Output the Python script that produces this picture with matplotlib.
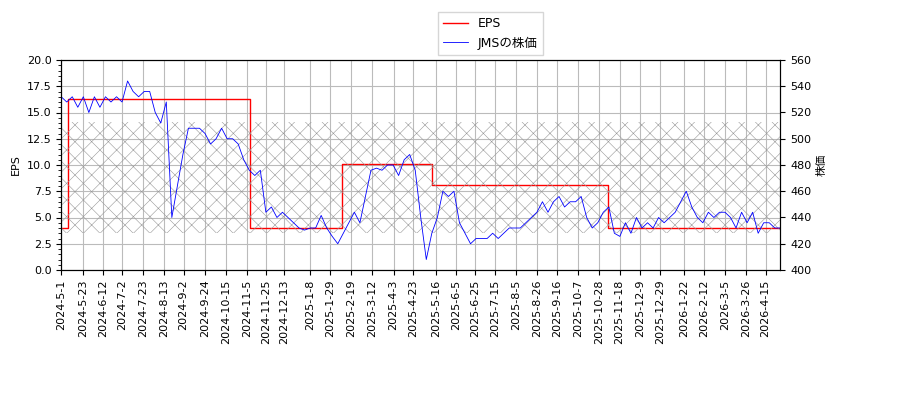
import matplotlib
matplotlib.use("Agg")
import matplotlib.pyplot as plt
from matplotlib.ticker import AutoMinorLocator, MultipleLocator
import pandas as pd

plt.rcParams['font.family'] = ['DejaVu Sans', 'Noto Sans CJK JP']
plt.rcParams['font.size'] = 8
plt.rcParams['hatch.linewidth'] = 0.4

# EPS step values (date, value)
eps_dates = ["2024-5-1", "2024-5-8", "2024-11-8", "2025-2-10", "2025-5-12", "2025-11-6", "2026-4-30"]
eps_values = [4.0, 16.3, 4.0, 10.1, 8.1, 4.0, 4.0]

# stock price, roughly weekly samples (EPS-axis units, converted to yen below)
price_eps_units = [
    16.5, 16, 16.5, 15.5, 16.5, 15, 16.5, 15.5, 16.5, 16, 16.5, 16,
    18, 17, 16.5, 17, 17, 15, 14, 16, 5, 8, 11, 13.5, 13.5, 13.5,
    13, 12, 12.5, 13.5, 12.5, 12.5, 12, 10.5, 9.5, 9, 9.5,
    5.5, 6, 5, 5.5, 5, 4.5, 4, 3.8, 4, 4, 5.2, 4, 3.2, 2.5,
    3.5, 4.5, 5.5, 4.5, 7, 9.5, 9.7, 9.5, 10, 10, 9, 10.5, 11, 9.5,
    5, 1, 3.5, 5, 7.5, 7, 7.5, 4.5, 3.5, 2.5, 3, 3, 3, 3.5, 3, 3.5,
    4, 4, 4, 4.5, 5, 5.5, 6.5, 5.5, 6.5, 7, 6, 6.5, 6.5, 7, 5,
    4, 4.5, 5.5, 6, 3.5, 3.2, 4.5, 3.5, 5, 4, 4.5, 4, 5, 4.5, 5, 5.5, 6.5,
    7.5, 6, 5, 4.5, 5.5, 5, 5.5, 5.5, 5, 4, 5.5, 4.5, 5.5, 3.5, 4.5, 4.5, 4, 4,
]
price_values = [400 + 8 * v for v in price_eps_units]
price_dates = pd.date_range("2024-5-1", "2026-4-30", periods=len(price_values))

band_low, band_high = 428, 513

tick_labels = [
    "2024-5-1", "2024-5-23", "2024-6-12", "2024-7-2", "2024-7-23", "2024-8-13",
    "2024-9-2", "2024-9-24", "2024-10-15", "2024-11-5", "2024-11-25", "2024-12-13",
    "2025-1-8", "2025-1-29", "2025-2-19", "2025-3-12", "2025-4-3", "2025-4-23",
    "2025-5-16", "2025-6-5", "2025-6-25", "2025-7-15", "2025-8-5", "2025-8-26",
    "2025-9-16", "2025-10-7", "2025-10-28", "2025-11-18", "2025-12-9", "2025-12-29",
    "2026-1-22", "2026-2-12", "2026-3-5", "2026-3-26", "2026-4-15",
]

fig, ax = plt.subplots(figsize=(9, 4), dpi=100)
fig.subplots_adjust(left=0.068, right=0.867, top=0.85, bottom=0.325)
ax2 = ax.twinx()

ed = pd.to_datetime(eps_dates)
l1, = ax.step(ed, eps_values, where="post", color="red", lw=1, label="EPS")
ax.set_ylim(0, 20)
ax.set_ylabel("EPS")
ax.yaxis.set_minor_locator(AutoMinorLocator(5))
ax.grid(True, color="#bbbbbb", lw=0.8)

ax2.fill_between([pd.Timestamp("2024-5-1"), pd.Timestamp("2026-4-30")], band_low, band_high,
                 facecolor="none", edgecolor="#999999", hatch="xx", lw=0)
l2, = ax2.plot(price_dates, price_values, color="blue", lw=0.6, label="JMSの株価")
ax2.set_ylim(400, 560)
ax2.yaxis.set_major_locator(MultipleLocator(20))
ax2.set_ylabel("株価")

ax.set_xlim(pd.Timestamp("2024-5-1"), pd.Timestamp("2026-4-30"))
ax.set_xticks(pd.to_datetime(tick_labels))
ax.set_xticklabels(tick_labels, rotation=90)

fig.legend([l1, l2], ["EPS", "JMSの株価"], loc="upper center",
           bbox_to_anchor=(0.545, 0.985), fancybox=False, fontsize=9)
fig.savefig("out.png")
